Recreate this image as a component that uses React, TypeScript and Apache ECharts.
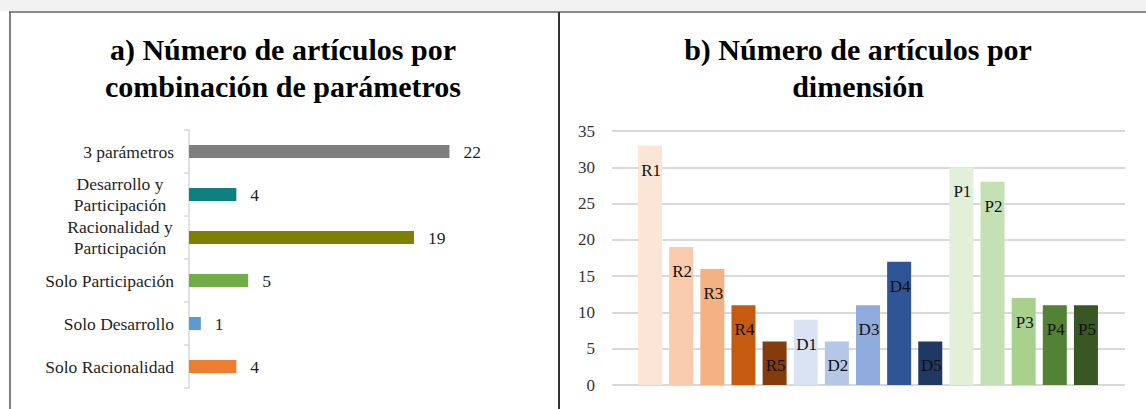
import React, { useEffect, useRef } from 'react';
import * as echarts from 'echarts';

const comboCategories = [
  '3 parámetros',
  'Desarrollo y\nParticipación',
  'Racionalidad y\nParticipación',
  'Solo Participación',
  'Solo Desarrollo',
  'Solo Racionalidad',
];
const comboValues = [22, 4, 19, 5, 1, 4];
const comboColors = ['#7f7f7f', '#0f8080', '#808000', '#70ad47', '#5b9bd5', '#ed7d31'];

const dimCategories = ['R1', 'R2', 'R3', 'R4', 'R5', 'D1', 'D2', 'D3', 'D4', 'D5', 'P1', 'P2', 'P3', 'P4', 'P5'];
const dimValues = [33, 19, 16, 11, 6, 9, 6, 11, 17, 6, 30, 28, 12, 11, 11];
const dimColors = [
  '#fbe5d6', '#f8cbad', '#f4b183', '#c55a11', '#843c0c',
  '#dae3f3', '#b4c7e7', '#8faadc', '#2f5597', '#203864',
  '#e2f0d9', '#c5e0b4', '#a9d18e', '#548235', '#385723',
];
const dimAxisMax = 35;
const dimAxisStep = 5;

const titleA = 'a) Número de artículos por\ncombinación de parámetros';
const titleB = 'b) Número de artículos por\ndimensión';

export default function App() {
  const ref = useRef<HTMLDivElement>(null);
  useEffect(() => {
    const chart = echarts.init(ref.current!, null, { renderer: 'svg' });
    const serif = 'Liberation Serif';
    const titleStyle = {
      fontFamily: serif,
      fontSize: 30,
      fontWeight: 'bold' as const,
      lineHeight: 37,
      color: '#000',
    };
    chart.setOption({
      animation: false,
      backgroundColor: '#ffffff',
      title: [
        { text: titleA, left: 283, top: 31, textAlign: 'center', padding: 0, textStyle: titleStyle },
        { text: titleB, left: 858, top: 31, textAlign: 'center', padding: 0, textStyle: titleStyle },
      ],
      grid: [
        { left: 189, top: 130, width: 296, height: 258 },
        { left: 612, top: 131, width: 513, height: 254 },
        { left: 634.5, top: 131, width: 467, height: 254 },
      ],
      xAxis: [
        { gridIndex: 0, type: 'value', min: 0, max: 25, show: false },
        { gridIndex: 1, type: 'value', min: 0, max: 1, show: false },
        { gridIndex: 2, type: 'category', data: dimCategories, show: false },
      ],
      yAxis: [
        {
          gridIndex: 0,
          type: 'category',
          data: comboCategories,
          inverse: true,
          axisLine: { show: true, lineStyle: { color: '#d9d9d9', width: 1.5 } },
          axisTick: { show: true, length: 5, lineStyle: { color: '#d9d9d9', width: 1.5 } },
          splitLine: { show: false },
          axisLabel: {
            margin: 15,
            fontFamily: serif,
            fontSize: 17.5,
            color: '#1f1f1f',
            lineHeight: 21,
            formatter: (v: string) => {
              if (v.indexOf('\n') < 0) return v;
              return v.split('\n').map((s) => '{c|' + s + '}').join('\n');
            },
            rich: {
              c: { width: 108, align: 'center', fontFamily: serif, fontSize: 17.5, color: '#1f1f1f', lineHeight: 21 },
            },
          },
        },
        {
          gridIndex: 1,
          type: 'value',
          min: 0,
          max: dimAxisMax,
          interval: dimAxisStep,
          axisLine: { show: false },
          axisTick: { show: false },
          axisLabel: { margin: 17, fontFamily: serif, fontSize: 17, color: '#333' },
          splitLine: { show: true, lineStyle: { color: '#d9d9d9', width: 2 } },
        },
        { gridIndex: 2, type: 'value', min: 0, max: dimAxisMax, interval: dimAxisStep, show: false },
      ],
      series: [
        {
          type: 'bar',
          xAxisIndex: 0,
          yAxisIndex: 0,
          barWidth: 13,
          data: comboValues.map((v, i) => ({ value: v, itemStyle: { color: comboColors[i] } })),
          label: {
            show: true,
            position: 'right',
            distance: 14,
            fontFamily: serif,
            fontSize: 17.5,
            color: '#1f1f1f',
          },
        },
        {
          type: 'bar',
          xAxisIndex: 2,
          yAxisIndex: 2,
          barWidth: 24,
          data: dimValues.map((v, i) => ({ value: v, itemStyle: { color: dimColors[i] } })),
          label: {
            show: true,
            position: 'insideTop',
            offset: [1, 11],
            formatter: (p: any) => dimCategories[p.dataIndex],
            fontFamily: serif,
            fontSize: 17,
            color: '#111',
          },
        },
      ],
      graphic: [
        { type: 'rect', shape: { x: 0, y: 0, width: 1146, height: 11 }, style: { fill: '#f2f2f2' }, z: 50 },
        { type: 'line', shape: { x1: 9, y1: 12, x2: 1146, y2: 12 }, style: { stroke: '#8a8a8a', lineWidth: 2 }, z: 50 },
        { type: 'line', shape: { x1: 10, y1: 12, x2: 10, y2: 409 }, style: { stroke: '#555', lineWidth: 1.5 }, z: 50 },
        { type: 'line', shape: { x1: 559, y1: 12, x2: 559, y2: 409 }, style: { stroke: '#333', lineWidth: 2 }, z: 50 },
      ],
    });
    return () => chart.dispose();
  }, []);
  return (
    <div
      ref={ref}
      style={{ position: 'absolute', left: 0, top: 0, width: 1146, height: 409 }}
    />
  );
}
